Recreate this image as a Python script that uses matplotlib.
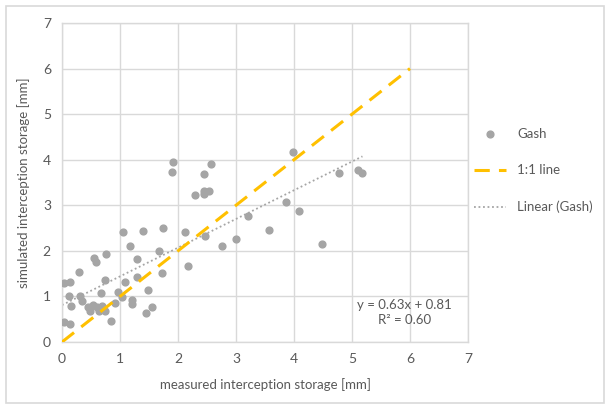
import matplotlib.pyplot as plt
from matplotlib.patches import Rectangle

# measured vs simulated interception storage [mm]
measured = [1.92, 1.89, 2.57, 2.45, 2.29, 2.44, 2.45, 2.54, 3.21, 1.05,
            1.39, 1.75, 2.12, 2.46, 3.00, 2.76, 1.18, 1.67, 1.29, 2.18,
            0.56, 0.58, 0.76, 0.29, 1.72, 1.30, 0.75, 0.04, 0.14, 1.09,
            0.115, 0.16, 0.31, 0.34, 0.67, 0.97, 1.03, 1.49, 1.21, 1.20,
            0.91, 0.44, 0.54, 0.48, 0.60, 0.69, 0.63, 0.74, 0.85, 1.44,
            1.56, 0.04, 0.14, 3.99, 4.78, 5.10, 5.18, 3.86, 4.08, 3.57,
            4.49]
simulated = [3.95, 3.72, 3.91, 3.68, 3.22, 3.24, 3.31, 3.31, 2.76, 2.41,
             2.44, 2.51, 2.41, 2.32, 2.26, 2.10, 2.10, 2.00, 1.82, 1.66,
             1.85, 1.76, 1.94, 1.54, 1.52, 1.42, 1.36, 1.29, 1.31, 1.31,
             1.02, 0.80, 1.02, 0.91, 1.07, 1.10, 0.99, 1.14, 0.92, 0.83,
             0.85, 0.77, 0.81, 0.68, 0.77, 0.80, 0.69, 0.69, 0.46, 0.63,
             0.76, 0.43, 0.40, 4.16, 3.70, 3.77, 3.70, 3.08, 2.88, 2.45,
             2.14]

slope = 0.63
intercept = 0.81
r2 = 0.60
one_to_one = [0, 6]

ticks = list(range(0, 8))

plt.rcParams['font.family'] = ['Lato', 'DejaVu Sans']
txt = '#595959'
grid = '#D9D9D9'

fig = plt.figure(figsize=(6.09, 4.08), dpi=100)
fig.patches.append(Rectangle((6 / 609, 1 - 403 / 408), 598 / 609, 397 / 408,
                             transform=fig.transFigure, fill=False,
                             edgecolor=grid, linewidth=1.2))

ax = fig.add_axes([62 / 609, 1 - 342 / 408, 406 / 609, 319 / 408])

ax.scatter(measured, simulated, s=24, color='#A5A5A5', zorder=3, label='Gash')
ax.plot(one_to_one, one_to_one, color='#FFC000', linewidth=2.2,
        dashes=(5, 3), zorder=4, label='1:1 line')
xt = [0, max(measured)]
ax.plot(xt, [slope * v + intercept for v in xt], color='#A5A5A5',
        linewidth=1.3, linestyle=(0, (1, 1.5)), zorder=2, label='Linear (Gash)')

ax.set_xlim(0, 7)
ax.set_ylim(0, 7)
ax.set_xticks(ticks)
ax.set_yticks(ticks)
ax.grid(True, color=grid, linewidth=1)
ax.set_axisbelow(True)
for s in ax.spines.values():
    s.set_color(grid)
    s.set_linewidth(1)
ax.tick_params(length=0, colors=txt, labelsize=10, pad=8)

ax.set_xlabel('measured interception storage [mm]', color=txt, fontsize=9.5, labelpad=9)
ax.set_ylabel('simulated interception storage [mm]', color=txt, fontsize=9.5, labelpad=9)

ax.text(5.9, 0.65, f'y = {slope:.2f}x + {intercept:.2f}\nR² = {r2:.2f}',
        ha='center', va='center', color=txt, fontsize=9.5, linespacing=1.3)

fig.legend(loc='upper left', bbox_to_anchor=(462 / 609, 1 - 116 / 408),
           frameon=False, handlelength=2.4, handletextpad=0.9,
           labelspacing=1.85, fontsize=9.5, labelcolor=txt)

fig.savefig('out.png', dpi=100)
